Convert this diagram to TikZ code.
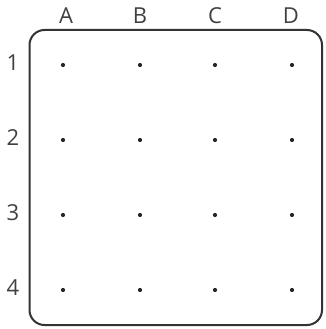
\documentclass[tikz,border=0pt]{standalone}
\usepackage{fontspec}
\setmainfont{Open Sans}
\begin{document}
\begin{tikzpicture}[x=1pt,y=-1pt,
  lbl/.style={font=\fontsize{22}{22}\selectfont, text=black!75, inner sep=0pt},
  gdot/.style={circle, fill=black!85, inner sep=0pt, minimum size=4.2pt},
  frame/.style={draw=black!80, line width=2pt, rounded corners=15pt}]
\useasboundingbox (0,0) rectangle (326,329);
\draw[frame] (29.5,30) rectangle (322,325);
\foreach \c/\x in {A/66,B/140,C/215,D/291}{
  \node[lbl] (col\c) at (\x,16) {\c};
}
\foreach \r/\y in {1/65,2/140,3/215,4/290}{
  \node[lbl] (row\r) at (13,\y-2) {\r};
  \foreach \c/\x in {A/63,B/140,C/215,D/292}{
    \node[gdot] (d\c\r) at (\x,\y) {};
  }
}
\end{tikzpicture}
\end{document}
